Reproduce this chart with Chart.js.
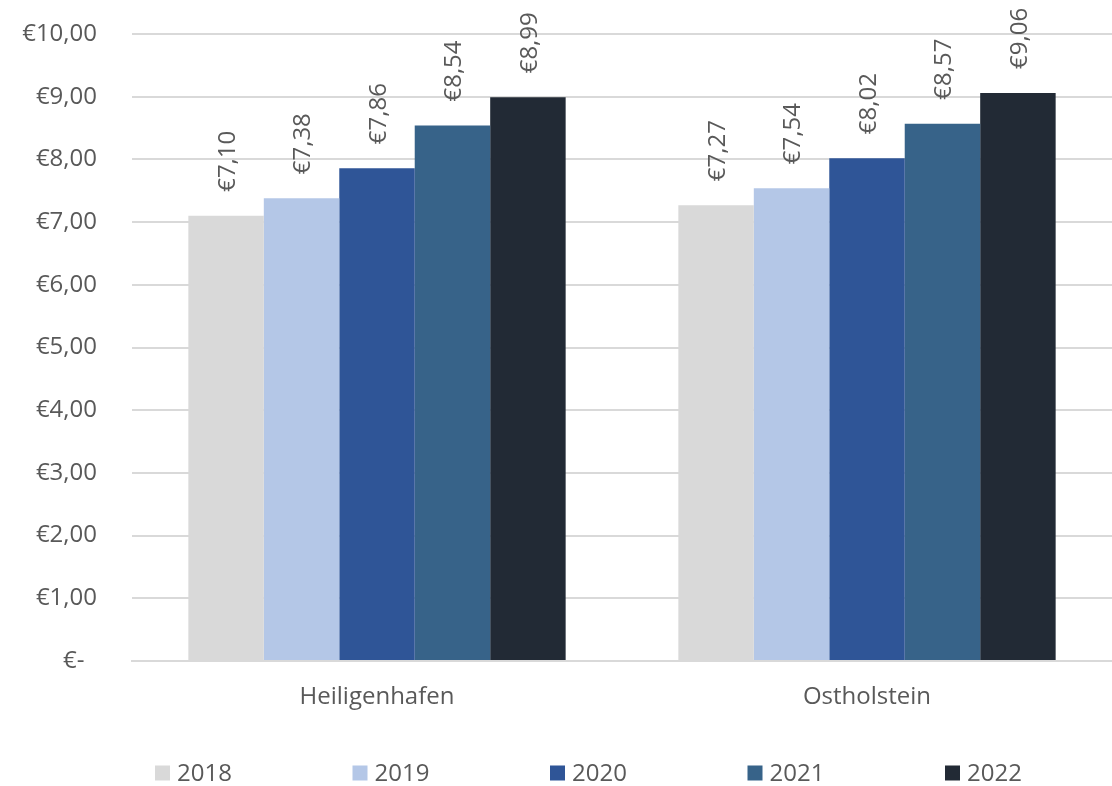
<!DOCTYPE html>
<html>
<head>
<meta charset="utf-8">
<script src="https://cdn.jsdelivr.net/npm/chart.js@4"></script>
<style>
  html, body { margin: 0; padding: 0; background: #ffffff; }
  #wrap { width: 1112px; height: 786px; position: relative; }
</style>
</head>
<body>
<div id="wrap"><canvas id="chart"></canvas></div>
<script>
// Average price per region and year (EUR)
const regions = ['Heiligenhafen', 'Ostholstein'];
const years = ['2018', '2019', '2020', '2021', '2022'];
const price2018 = [7.10, 7.27];
const price2019 = [7.38, 7.54];
const price2020 = [7.86, 8.02];
const price2021 = [8.54, 8.57];
const price2022 = [8.99, 9.06];
const yTicks = [0, 1, 2, 3, 4, 5, 6, 7, 8, 9, 10];

const seriesValues = [price2018, price2019, price2020, price2021, price2022];
const seriesColors = ['#d9d9d9', '#b4c7e7', '#2f5597', '#376389', '#222a35'];

const FONT = '"Open Sans", "Noto Sans", sans-serif';
const GREY = '#595959';

function euro(v) {
  if (v === 0) return '€-  ';
  return '€' + v.toFixed(2).replace('.', ',');
}

// Rotated value labels above each bar
const valueLabels = {
  id: 'valueLabels',
  afterDatasetsDraw(chart) {
    const ctx = chart.ctx;
    ctx.save();
    ctx.font = '24px ' + FONT;
    ctx.fillStyle = GREY;
    ctx.textAlign = 'left';
    ctx.textBaseline = 'middle';
    chart.data.datasets.forEach((ds, di) => {
      const meta = chart.getDatasetMeta(di);
      meta.data.forEach((bar, i) => {
        ctx.save();
        ctx.translate(bar.x + 2, bar.y - 24);
        ctx.rotate(-Math.PI / 2);
        ctx.fillText(euro(ds.data[i]), 0, 0);
        ctx.restore();
      });
    });
    ctx.restore();
  }
};

// Single-row legend with evenly spaced entries along the bottom
const rowLegend = {
  id: 'rowLegend',
  afterDraw(chart) {
    const ctx = chart.ctx;
    const left = 155, step = 197.5, cy = chart.height - 13, box = 15;
    ctx.save();
    ctx.font = '24px ' + FONT;
    ctx.textAlign = 'left';
    ctx.textBaseline = 'middle';
    chart.data.datasets.forEach((ds, i) => {
      const x = left + i * step;
      ctx.fillStyle = ds.backgroundColor;
      ctx.fillRect(x, cy - box / 2, box, box);
      ctx.fillStyle = GREY;
      ctx.fillText(ds.label, x + 22, cy + 1);
    });
    ctx.restore();
  }
};

new Chart(document.getElementById('chart'), {
  type: 'bar',
  data: {
    labels: regions,
    datasets: years.map((y, i) => ({
      label: y,
      data: seriesValues[i],
      backgroundColor: seriesColors[i],
      borderWidth: 0,
      categoryPercentage: 0.77,
      barPercentage: 1.0
    }))
  },
  options: {
    responsive: true,
    maintainAspectRatio: false,
    animation: false,
    layout: { padding: { top: 34, right: 0, left: 0, bottom: 70 } },
    plugins: {
      tooltip: { enabled: false },
      legend: { display: false }
    },
    scales: {
      x: {
        grid: { display: false, drawTicks: false },
        border: { display: true, color: '#d9d9d9', width: 2 },
        ticks: { color: GREY, font: { family: FONT, size: 24 }, padding: 22 },
        afterFit(axis) { axis.height = 55; axis.paddingLeft = 0; axis.paddingRight = 0; }
      },
      y: {
        min: 0,
        max: 10,
        afterBuildTicks(axis) {
          axis.ticks = yTicks.map(v => ({ value: v }));
        },
        afterFit(axis) { axis.width = 132; axis.paddingTop = 0; axis.paddingBottom = 0; },
        grid: { color: '#d9d9d9', lineWidth: 2, drawTicks: false },
        border: { display: false },
        ticks: {
          color: GREY,
          font: { family: FONT, size: 24 },
          padding: 35,
          callback: v => euro(v)
        }
      }
    }
  },
  plugins: [valueLabels, rowLegend]
});
</script>
</body>
</html>
